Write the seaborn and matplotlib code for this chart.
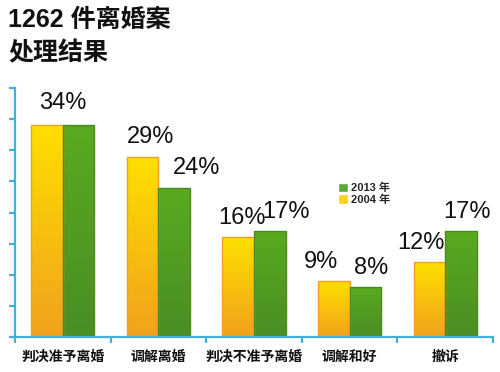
import numpy as np
import pandas as pd
import matplotlib
matplotlib.use('Agg')
import matplotlib.pyplot as plt
from matplotlib.colors import LinearSegmentedColormap
from matplotlib.patches import Patch
import seaborn as sns

categories = ['判决准予离婚', '调解离婚', '判决不准予离婚', '调解和好', '撤诉']
values_2004 = [34, 29, 16, 9, 12]
values_2013 = [34, 24, 17, 8, 17]
years = ['2004 年', '2013 年']
title = '1262 件离婚案\n处理结果'

sns.set_theme(style='white')
plt.rcParams['font.family'] = ['Liberation Sans', 'Noto Sans CJK SC', 'DejaVu Sans']

df = pd.DataFrame({
    'cat': categories * 2,
    'year': [years[0]] * len(categories) + [years[1]] * len(categories),
    'val': values_2004 + values_2013,
})

axis_col = '#45AED6'
yellow_cm = LinearSegmentedColormap.from_list('y', ['#F0A21C', '#FFDF00'])
green_cm = LinearSegmentedColormap.from_list('g', ['#4A8E26', '#5AAA1E'])

# horizontal nudges (points) of the value labels, as hand placed in the original
nudge_2004 = [0, 6, 3, -9, -6]
nudge_2013 = [0, 16, 12, 4, 4]

fig = plt.figure(figsize=(5, 3.72), dpi=100)
ax = fig.add_axes([0.03, 0.094, 0.956, 0.669])

sns.barplot(data=df, x='cat', y='val', hue='year', hue_order=years,
            palette=['#FFCC00', '#55A020'], width=0.66, gap=0,
            ax=ax, legend=False, saturation=1)

# gradient fill inside each bar
grad = np.linspace(0, 1, 256).reshape(-1, 1)
n = len(categories)
for i, p in enumerate(ax.patches[:2 * n]):
    cmap = yellow_cm if i < n else green_cm
    edge = '#EFA02A' if i < n else '#4B8A22'
    x0, y0 = p.get_x(), p.get_y()
    w, h = p.get_width(), p.get_height()
    im = ax.imshow(grad, cmap=cmap, origin='lower', aspect='auto',
                   extent=[x0, x0 + w, y0, y0 + h], zorder=p.get_zorder() + 0.1)
    im.set_clip_path(p)
    p.set_edgecolor(edge)
    p.set_linewidth(1.0)
    p.set_zorder(p.get_zorder() + 0.2)
    p.set_facecolor('none')
ax.set_xlim(-0.5, n - 0.5)
ax.set_ylim(0, 40)

# value labels
lab_kw = dict(ha='center', va='bottom', fontsize=17, color='#111111',
              textcoords='offset points')
for i in range(n):
    a, b = values_2004[i], values_2013[i]
    pa, pb = ax.patches[i], ax.patches[i + n]
    if a == b:
        xc = (pa.get_x() + pb.get_x() + pb.get_width()) / 2
        ax.annotate(f'{a}%', (xc, a), xytext=(0, 8), **lab_kw)
    else:
        ax.annotate(f'{a}%', (pa.get_x() + pa.get_width() / 2, a),
                    xytext=(nudge_2004[i], 6), **lab_kw)
        ax.annotate(f'{b}%', (pb.get_x() + pb.get_width() / 2, b),
                    xytext=(nudge_2013[i], 6), **lab_kw)

# axes styling
for s in ['top', 'right']:
    ax.spines[s].set_visible(False)
for s in ['left', 'bottom']:
    ax.spines[s].set_color(axis_col)
    ax.spines[s].set_linewidth(1.6)
ax.set_yticks(range(0, 41, 5))
ax.set_yticklabels([])
ax.tick_params(axis='y', which='major', left=True, length=4, width=1.6, color=axis_col)
ax.set_xticks(range(n))
ax.set_xticklabels(categories, fontsize=10, fontweight='bold', color='#111111')
ax.tick_params(axis='x', which='major', length=0, pad=9)
ax.set_xticks(np.arange(-0.5, n, 1.0), minor=True)
ax.tick_params(axis='x', which='minor', bottom=True, length=4, width=1.6, color=axis_col)
ax.set_xlabel('')
ax.set_ylabel('')

handles = [Patch(facecolor='#58A83A', label=years[1]),
           Patch(facecolor='#FFD21A', label=years[0])]
ax.legend(handles=handles, loc='upper left', bbox_to_anchor=(0.655, 0.66),
          frameon=False, handlelength=0.9, handleheight=0.9,
          handletextpad=0.3, labelspacing=0.1, prop={'weight': 'bold', 'size': 8})

fig.text(0.016, 0.978, title, ha='left', va='top', fontsize=18,
         fontweight='bold', color='#111111', linespacing=1.45)

fig.savefig('out.png', dpi=100)
